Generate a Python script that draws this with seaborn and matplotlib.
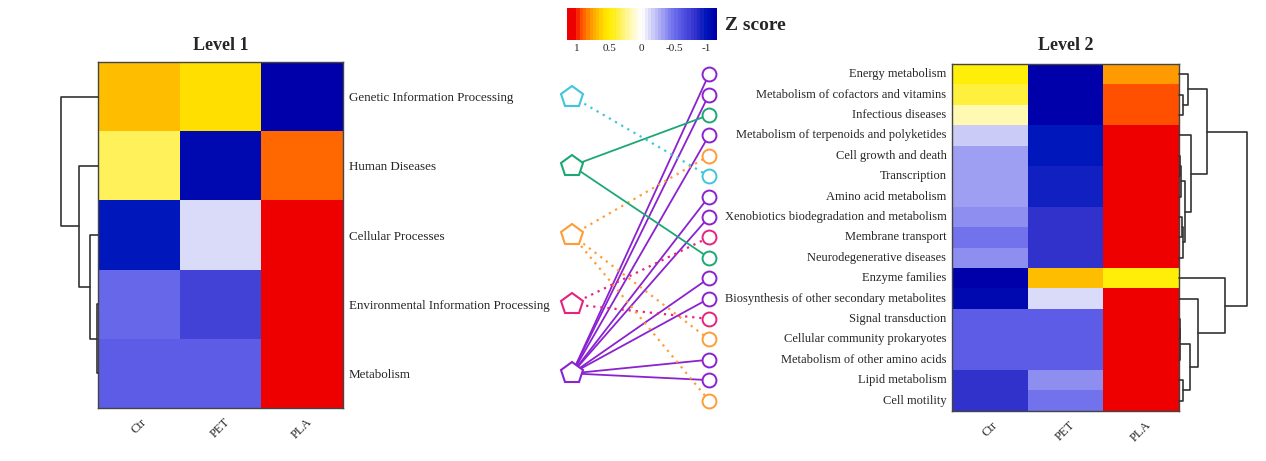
import numpy as np
import pandas as pd
import seaborn as sns
import matplotlib.pyplot as plt
from matplotlib.colors import LinearSegmentedColormap

# ---- data ----
groups = ['Ctr', 'PET', 'PLA']

level1 = ['Genetic Information Processing', 'Human Diseases', 'Cellular Processes',
          'Environmental Information Processing', 'Metabolism']
level1_ctr = [0.70, 0.35, -1.00, -0.52, -0.60]
level1_pet = [0.58, -1.08, -0.15, -0.72, -0.60]
level1_pla = [-1.12, 0.90, 1.155, 1.155, 1.155]

level2 = ['Energy metabolism', 'Metabolism of cofactors and vitamins', 'Infectious diseases',
          'Metabolism of terpenoids and polyketides', 'Cell growth and death', 'Transcription',
          'Amino acid metabolism', 'Xenobiotics biodegradation and metabolism',
          'Membrane transport', 'Neurodegenerative diseases', 'Enzyme families',
          'Biosynthesis of other secondary metabolites', 'Signal transduction',
          'Cellular community prokaryotes', 'Metabolism of other amino acids',
          'Lipid metabolism', 'Cell motility']
level2_ctr = [0.50, 0.38, 0.20, -0.20, -0.32, -0.32, -0.32, -0.40, -0.50, -0.40,
              -1.15, -1.08, -0.60, -0.60, -0.60, -0.85, -0.85]
level2_pet = [-1.15, -1.15, -1.15, -0.98, -0.98, -0.95, -0.95, -0.85, -0.85, -0.85,
              0.70, -0.15, -0.60, -0.60, -0.60, -0.40, -0.47]
level2_pla = [0.80, 0.95, 0.95, 1.155, 1.155, 1.155, 1.155, 1.155, 1.155, 1.155,
              0.50, 1.155, 1.155, 1.155, 1.155, 1.155, 1.155]

# which level 1 category each level 2 row belongs to
level2_parent = [4, 4, 1, 4, 2, 0, 4, 4, 3, 1, 4, 4, 3, 2, 4, 4, 2]

level1_colors = ['#3ec6dc', '#1ca874', '#ff9c33', '#e5237f', '#8b22cf']
level1_dotted = [True, False, True, True, False]

# row clustering: (child a, child b, height); leaves 0..n-1, merge k gets id n+k
level1_tree = [(3, 4, 0.05), (2, 5, 0.42), (1, 6, 1.03), (0, 7, 2.0)]
level2_tree = [(1, 2, 4.0), (0, 17, 9.0), (4, 5, 1.0), (19, 6, 2.0), (7, 8, 2.5),
               (21, 9, 4.0), (20, 22, 5.7), (3, 23, 11.4), (18, 24, 28.0),
               (12, 13, 0.5), (26, 14, 1.0), (15, 16, 4.0), (27, 28, 10.7),
               (11, 29, 18.4), (10, 30, 45.7), (25, 31, 67.4)]

zmax = 1.155
cmap_nodes = [(-1.155, '#0000aa'), (-1.0, '#0018bb'), (-0.85, '#3030cc'), (-0.6, '#5a5ae6'),
              (-0.45, '#7a7aee'), (-0.3, '#a8a8f4'), (-0.15, '#d4d4f8'), (0.0, '#ffffff'),
              (0.2, '#fff8a8'), (0.35, '#fff050'), (0.5, '#ffee00'), (0.6, '#ffdd00'),
              (0.7, '#ffbb00'), (0.8, '#ff9900'), (0.9, '#ff6600'), (0.95, '#ff5000'),
              (1.05, '#ee0000'), (1.155, '#ee0000')]
cmap = LinearSegmentedColormap.from_list(
    'z', [((v + zmax) / (2 * zmax), c) for v, c in cmap_nodes], N=46)

df1 = pd.DataFrame({'Ctr': level1_ctr, 'PET': level1_pet, 'PLA': level1_pla}, index=level1)
df2 = pd.DataFrame({'Ctr': level2_ctr, 'PET': level2_pet, 'PLA': level2_pla}, index=level2)

sns.set_style('white')
plt.rcParams['font.family'] = ['Liberation Serif', 'DejaVu Serif']

W, H = 1266, 461
fig = plt.figure(figsize=(W / 100, H / 100), dpi=100)


def px_axes(l, t, r, b):
    return fig.add_axes([l / W, 1 - b / H, (r - l) / W, (b - t) / H])


def style_heatmap(ax, ysize):
    for s in ax.spines.values():
        s.set_visible(True)
        s.set_color('#444444')
        s.set_linewidth(1)
    ax.set_xlabel('')
    ax.set_ylabel('')
    ax.tick_params(length=0)
    ax.tick_params(axis='y', labelrotation=0, pad=4, labelsize=ysize)
    ax.tick_params(axis='x', pad=6, labelsize=9)
    for t in ax.get_xticklabels():
        t.set_rotation(45)
        t.set_ha('center')
        t.set_va('top')


def draw_dendrogram(ax, tree, n, side):
    pos = {i: i + 0.5 for i in range(n)}
    hgt = {i: 0.0 for i in range(n)}
    for k, (a, b, h) in enumerate(tree):
        ax.plot([hgt[a], h, h, hgt[b]], [pos[a], pos[a], pos[b], pos[b]],
                color='#333333', lw=1.2, clip_on=False)
        pos[n + k] = (pos[a] + pos[b]) / 2
        hgt[n + k] = h
    top = tree[-1][2]
    ax.set_ylim(n, 0)
    ax.set_xlim((top, 0) if side == 'left' else (0, top))
    ax.axis('off')


# ---- left: level 1 ----
ax1 = px_axes(98, 62, 343, 408)
cax = px_axes(566.7, 8.3, 716.7, 40)
sns.heatmap(df1, ax=ax1, cmap=cmap, vmin=-zmax, vmax=zmax, cbar=True, cbar_ax=cax,
            cbar_kws={'orientation': 'horizontal'})
ax1.yaxis.tick_right()
style_heatmap(ax1, 9.4)
ax1.set_title('Level 1', fontsize=13, fontweight='bold', pad=9)

cbar = ax1.collections[0].colorbar
cbar.outline.set_edgecolor('#888888')
cax.invert_xaxis()
cax.set_xticks([1, 0.5, 0, -0.5, -1], labels=['1', '0.5', '0', '-0.5', '-1'])
cax.tick_params(length=0, labelsize=8, pad=3)
fig.text(725 / W, 1 - 26 / H, 'Z score', fontsize=14, fontweight='bold', va='center')

axd1 = px_axes(61, 62, 98, 408)
draw_dendrogram(axd1, level1_tree, len(level1), 'left')

# ---- right: level 2 ----
ax2 = px_axes(952, 64, 1179, 410.7)
sns.heatmap(df2, ax=ax2, cmap=cmap, vmin=-zmax, vmax=zmax, cbar=False)
style_heatmap(ax2, 9)
ax2.set_title('Level 2', fontsize=13, fontweight='bold', pad=10)

axd2 = px_axes(1179.3, 64, 1246.7, 410.7)
draw_dendrogram(axd2, level2_tree, len(level2), 'right')

# ---- middle: links from level 1 to level 2 ----
ax_mid = px_axes(540, 0, 740, 461)
ax_mid.set_xlim(0, 200)
ax_mid.set_ylim(0, 1)
ax_mid.axis('off')


def row_y(ax, i):
    disp = ax.transData.transform((0.5, i + 0.5))
    return ax_mid.transData.inverted().transform(disp)[1]


x_pent, x_circ = 32, 169
y1 = [row_y(ax1, i) for i in range(len(level1))]
y2 = [row_y(ax2, j) for j in range(len(level2))]

for j, p in enumerate(level2_parent):
    if level1_dotted[p]:
        ax_mid.plot([x_pent, x_circ], [y1[p], y2[j]], color=level1_colors[p], lw=1.6,
                    linestyle=(0, (1, 2.2)), zorder=1)
    else:
        ax_mid.plot([x_pent, x_circ], [y1[p], y2[j]], color=level1_colors[p], lw=1.3, zorder=1)

for i in range(len(level1)):
    ax_mid.plot(x_pent, y1[i], marker='p', ms=16, mfc='white', mec=level1_colors[i],
                mew=1.5, zorder=3)
for j, p in enumerate(level2_parent):
    ax_mid.plot(x_circ, y2[j], marker='o', ms=10, mfc='white', mec=level1_colors[p],
                mew=1.4, zorder=3)

plt.savefig('out.png', dpi=100, facecolor='white')
